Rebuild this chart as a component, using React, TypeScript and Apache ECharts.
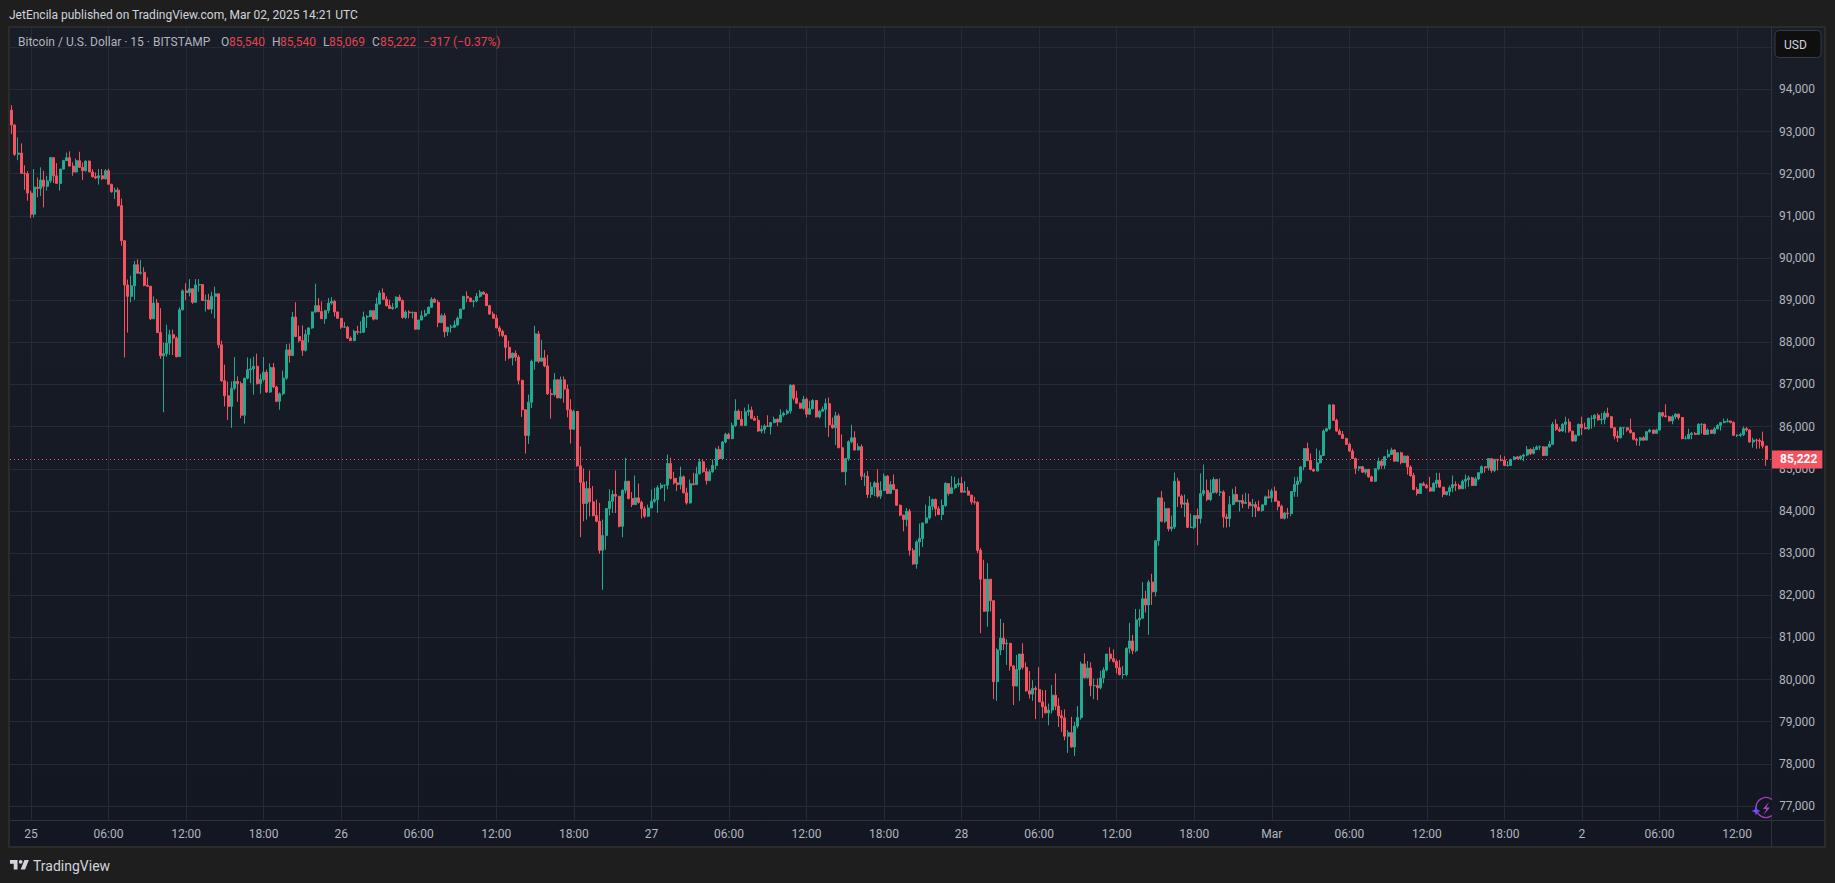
import React, { useEffect, useRef } from "react";
import * as echarts from "echarts";

// Each row: [close, high, low] of one 15-minute candle; a candle opens at the previous close.
const firstOpen = 93506;
const feb24to25a = [
[93158,93624,92940],[92460,93130,92420],[92490,92860,92320],[92010,92720,92010],[92000,92200,91620],[91540,92060,91360],[91040,91600,90950],[91680,92110,90960],[91650,91910,91440],[91850,92150,91470],[91700,92070,91200],[91830,91950,91600],
[92380,92400,91780],[91950,92390,91780],[91770,92250,91770],[92110,92110,91600],[92310,92330,92100],[92380,92500,92300],[92180,92530,92180],[92040,92270,91950],[92310,92360,92030],[92150,92520,92140],[92070,92270,91850],[92300,92310,92050],
[92040,92310,92040],[91930,92110,91910],[91900,92030,91870],[91950,92110,91740],[91880,92110,91850],[92070,92110,91860],[91750,92120,91750],[91570,91760,91550],[91610,91670,91400],[91240,91670,91220],[90410,91410,90290],[89360,90390,87640],
];
const feb25b = [
[89090,89490,88230],[89340,89580,88950],[89840,89930,89010],[89640,89970,89620],[89660,89950,89600],[89350,89780,89330],[89330,89540,89320],[88560,89340,88530],[88930,89090,88570],[88230,89030,88230],[87680,88810,87610],[87730,88000,86340],
[87980,88420,87660],[88180,88300,87700],[88100,88300,87700],[87660,88140,87640],[88770,88830,87750],[89220,89260,88760],[89180,89400,89000],[89270,89500,89090],[88950,89270,88910],[89360,89500,88970],[89370,89500,89200],[88990,89370,88990],
[89000,89130,88730],[88790,89150,88770],[89090,89200,88680],[89150,89320,88570],[87940,89130,87860],[87090,88040,87060],[86730,87470,86480],[86480,87070,86160],[86910,87070,85970],[87070,87650,86860],[87020,87190,86590],[86270,87070,86200],
[87150,87150,86070],[87350,87640,87120],[87370,87620,87030],[87430,87660,86760],[87020,87730,87000],[87120,87250,86780],[87290,87650,87070],[86820,87350,86800],[87400,87500,86800],[86940,87510,86910],[86600,86970,86580],[86780,86810,86400],
[87150,87330,86740],[87820,87960,87110],[87690,87970,87520],[88600,88720,87670],[88140,88950,88120],[88040,88400,88000],[87810,88400,87680],[88190,88300,87780],[88340,88360,88000],[88720,88730,88320],[88870,89390,88700],[88730,89050,88710],
];
const feb26 = [
[88560,88970,88560],[88750,88770,88440],[88930,89050,88690],[88970,89070,88890],[88720,89010,88610],[88570,88730,88560],[88360,88570,88320],[88360,88480,88340],[88100,88390,88080],[88040,88140,88030],[88260,88300,88030],[88240,88390,88180],
[88240,88500,88210],[88600,88730,88230],[88610,88650,88340],[88750,88770,88600],[88550,88750,88520],[88910,89060,88550],[89170,89230,88890],[89020,89280,89010],[88870,89090,88850],[88800,89010,88790],[88830,88930,88770],[89070,89090,88790],
[88990,89130,88970],[88590,89020,88560],[88720,88760,88550],[88700,88760,88570],[88710,88730,88570],[88310,88720,88300],[88530,88530,88310],[88630,88750,88520],[88680,88770,88600],[88830,88850,88680],[89020,89070,88820],[88950,89050,88930],
[88470,89010,88360],[88630,88680,88450],[88250,88690,88120],[88360,88360,88150],[88360,88420,88230],[88410,88520,88340],[88570,88610,88380],[88790,88790,88550],[89090,89100,88770],[89050,89210,88950],[88970,89060,88950],[88980,89010,88830],
[89090,89170,88950],[89190,89240,89060],[89140,89210,89130],[88870,89170,88860],[88670,88890,88650],[88570,88730,88560],[88340,88650,88340],[88260,88390,88140],[88160,88300,88120],[87880,88180,87560],[87630,88040,87600],[87740,87760,87450],
[87650,87810,87550],[87100,87700,87000],[86400,87110,86230],[85790,86380,85360],[86580,86760,85590],[87550,87590,86440],[88200,88390,87350],[87550,88270,87510],[87630,88060,87550],[87440,87820,87410],[86780,87700,86750],[86760,86900,86190],
[87110,87270,86720],[86680,87130,86680],[87110,87190,86660],[86890,87190,86570],[86400,87000,86220],[85940,86650,85600],[86360,86400,85920],[85070,86320,85050],[84680,85530,83380],
];
const feb27a = [
[84175,85010,83755],[84530,84710,83795],[84215,84960,83875],[83890,84590,83870],[83755,84270,83730],[83065,84190,82985],[83415,83795,82130],[84055,84070,83080],[84230,84510,83890],[84390,84490,83950],[84350,84960,83950],[83635,84350,83610],
[84490,84510,83375],[84705,85260,84415],[84295,84705,84270],[84150,84445,84090],[84310,84840,84150],[84205,84650,84175],[84050,84245,83820],[83875,84110,83835],[84070,84150,83860],[84230,84510,84130],[84270,84550,84190],[84550,84605,83955],
[84610,84665,84510],[84610,84625,84230],[85125,85340,84510],[84770,85260,84745],[84665,84930,84625],[84625,84785,84470],[84810,85050,84510],[84430,84840,84415],[84190,84550,84150],[84645,84745,84175],[84625,84905,84605],[84880,85050,84625],
[85165,85240,84865],[84930,85220,84905],[84720,85025,84625],[84930,84985,84705],[85080,85220,84905],[85460,85500,84985],[85240,85540,85220],[85635,85660,85220],[85815,85855,85605],[85715,85855,85700],[86030,86095,85700],[86370,86650,85990],
[86175,86410,86160],[86030,86370,86030],[86350,86450,86015],[86390,86530,86255],[86195,86475,86175],[86150,86255,86135],[85895,86255,85880],[85935,86030,85840],[86015,86055,85835],[86000,86270,86000],[86095,86095,85815],[86175,86235,86080],
[86110,86195,86015],[86275,86410,86095],[86315,86355,86235],[86370,86410,86275],[86980,87005,86310],[86675,87005,86625],[86555,86850,86545],[86435,86570,86425],[86650,86730,86395],[86295,86690,86215],[86425,86610,86275],[86620,86650,86410],
[86230,86625,86215],[86365,86390,86190],[86410,86475,86350],[86545,86665,85975],[86040,86690,85755],[85975,86215,85950],[86255,86350,85565],[85500,86310,85485],[84930,85815,84920],[85240,85260,84610],[85640,85675,85190],[85735,86045,85605],
[85445,85890,85435],[85525,85605,85435],[84825,85580,84730],[84825,84905,84590],[84390,84945,84310],[84565,84685,84310],[84665,84705,84350],[84350,84985,84310],[84485,84705,84285],[84825,84890,84470],[84415,84850,84415],[84625,84705,84430],
[84510,84865,84490],[84135,84510,84130],[83900,84150,83875],[83795,83915,83515],[83995,84070,83635],[83065,84050,82940],[82740,83120,82725],[83265,83305,82630],[83345,83700,82920],[83715,83715,83145],[83835,84150,83700],[84110,84350,83795],
[84270,84295,84015],[84050,84295,83875],[83915,84110,83900],[84130,84270,83780],[84650,84685,84095],[84415,84650,84365],[84550,84825,84415],[84625,84810,84510],[84650,84770,84565],[84445,84810,84430],[84470,84705,84445],[84375,84570,84365],
[84215,84375,84150],[84205,84335,84150],[83065,84230,83000],[82380,83120,81100],[81620,82840,81610],[82380,82760,81255],[81870,82365,81615],[79950,81890,79535],[80700,80740,79495],[80980,81440,80580],[80845,81345,80700],[80860,80955,80345],
];
const feb28 = [
[80320,80820,80210],[79845,80345,79395],[80240,80580,79910],[80605,80605,79495],[80290,80860,80240],[79735,80410,79710],[79655,80200,79550],[79790,79985,79495],[79765,79845,79060],[79470,80295,79465],[79355,79750,79090],[79210,79750,79195],
[79275,79430,78915],[79630,79870,79195],[79370,80145,79275],[79140,79565,78875],[79090,79275,78760],[78655,79290,78560],[78740,78800,78260],[78400,79115,78385],[78895,78995,78185],[79100,79370,78840],[80370,80425,79050],[80045,80620,80020],
[80275,80440,80020],[79855,80410,79605],[79855,80025,79535],[79805,80025,79510],[80035,80210,79765],[80225,80290,79910],[80605,80605,80195],[80495,80765,80425],[80430,80715,80400],[80280,80480,80145],[80115,80465,80100],[80120,80320,80020],
[80740,80765,80080],[80915,81345,80620],[80685,81060,80600],[81415,81675,80645],[81455,81675,81255],[81915,82310,81440],[81770,82105,81590],[82310,82365,81060],[82080,82510,81770],[83295,83295,81970],[84310,84310,83175],[83755,84470,83730],
[84055,84220,83715],[83580,84050,83515],[83620,83890,83515],[84705,84910,83570],[84350,84785,84095],[84160,84390,84070],[84190,84390,83855],[83610,84285,83595],[83610,83935,83595],[83890,83890,83570],[83820,84055,83185],[84410,84890,83700],
[84485,85100,84350],[84270,84745,84230],[84430,84745,84230],[84745,84800,84430],[84445,84760,84410],[84450,84770,84350],[83855,84490,83605],[83820,83935,83605],[84150,84350,83620],[84390,84525,84135],[84220,84580,84205],[84245,84255,83985],
[84180,84390,84070],[84205,84430,84165],[84125,84410,84050],[84150,84285,83855],[84085,84220,83855],[84010,84245,83990],[84145,84145,83975],[84335,84365,84135],[84310,84505,84295],[84470,84525,84205],[84230,84580,84215],[84110,84245,84015],
[83825,84150,83820],[83950,83970,83795],[83935,84070,83820],[84460,84460,83875],[84625,84810,84335],[84705,84810,84335],
];
const mar1 = [
[85045,85065,84650],[85480,85480,84965],[85195,85620,85180],[84985,85365,84965],[84945,85005,84930],[85140,85480,84945],[85315,85435,85125],[85895,85935,85300],[85950,85975,85880],[86515,86530,85920],[86150,86530,86135],[85895,86190,85880],
[85815,85950,85800],[85720,85895,85715],[85580,85735,85565],[85420,85620,85405],[85245,85475,85230],[85010,85260,84875],[85050,85060,84945],[84920,85065,84905],[84985,85000,84865],[84810,85000,84785],[84705,84840,84700],[85000,85010,84690],
[85180,85260,84960],[85080,85220,85000],[85285,85300,85000],[85340,85460,85260],[85445,85500,85325],[85180,85460,85165],[85380,85380,85165],[85145,85405,85105],[85300,85315,85165],[85040,85315,84865],[84840,85080,84810],[84510,84905,84490],
[84415,84565,84365],[84645,84665,84415],[84605,84690,84590],[84550,84645,84530],[84470,84810,84455],[84650,84685,84455],[84730,84905,84550],[84565,84905,84550],[84390,84570,84325],[84455,84470,84365],[84550,84605,84350],[84625,84840,84445],
[84605,84705,84470],[84525,84650,84510],[84705,84745,84525],[84745,84865,84525],[84785,84840,84570],[84605,84810,84590],[84760,84810,84590],[84905,84920,84730],[85050,85080,84880],[85025,85050,84905],[85240,85255,84960],[84960,85255,84905],
[85220,85240,84920],[85205,85240,84960],[85200,85325,85175],[85080,85300,85065],[85080,85180,85050],[85220,85240,85065],[85280,85300,85205],[85240,85300,85220],[85300,85315,85205],[85325,85355,85180],[85460,85540,85300],[85365,85485,85325],
];
const mar2 = [
[85460,85520,85340],[85515,85555,85445],[85520,85555,85440],[85315,85540,85300],[85520,85520,85300],[85580,85660,85500],[86055,86110,85565],[85935,86175,85895],[85895,85990,85870],[86055,86080,85880],[86110,86235,85855],[85895,86190,85855],
[85660,85895,85640],[85795,85815,85640],[86055,86070,85775],[85975,86235,85800],[85950,86095,85935],[86195,86215,85920],[86195,86270,85950],[86270,86295,86000],[86160,86315,86140],[86175,86330,86055],[86315,86370,86055],[86235,86450,86215],
[85975,86255,85960],[85775,85990,85700],[85735,85895,85635],[85975,86000,85720],[85975,85990,85800],[85920,85960,85880],[85855,86190,85840],[85700,85870,85675],[85675,85735,85555],[85735,85755,85540],[85680,85775,85660],[85880,85895,85675],
[85920,85950,85855],[85840,85920,85830],[85920,85950,85840],[86330,86350,85905],[86255,86350,86220],[86235,86530,86220],[86135,86255,86120],[86235,86270,86055],[86295,86315,86175],[86215,86310,86160],[85715,86230,85700],[85715,85780,85700],
[85815,85950,85700],[85840,85870,85700],[85815,85870,85800],[86055,86080,85800],[86055,86080,85835],[85815,86070,85800],[85920,85960,85830],[85840,85920,85830],[85950,85990,85815],[86030,86055,85935],[86095,86110,85905],[86120,86190,86080],
[86135,86190,86095],[86095,86135,86080],[85795,86125,85775],[85795,85815,85755],[85810,85855,85755],[85950,86000,85775],[85920,85990,85880],[85635,85935,85620],[85680,85735,85500],[85675,85715,85475],[85650,85720,85480],[85540,85880,85480],[85222,85540,85069],
];
const segments = [feb24to25a, feb25b, feb26, feb27a, feb28, mar1, mar2];

const priceTicks = [77000,78000,79000,80000,81000,82000,83000,84000,85000,86000,87000,88000,89000,90000,91000,92000,93000,94000,95000];
const priceLabels = priceTicks.slice(0, -1);
const timeLabels = ["25","06:00","12:00","18:00","26","06:00","12:00","18:00","27","06:00","12:00","18:00","28","06:00","12:00","18:00","Mar","06:00","12:00","18:00","2","06:00","12:00"];
const firstLabelSlot = 6;
const slotsPerLabel = 24;
const slotCount = 545;
const lastPrice = 85222;

const FONT = "Roboto, sans-serif";
const UP = "#22AB94";
const DOWN = "#F7525F";
const GRID = "#262A36";
const EDGE = "#2E323E";
const LEGEND_RED = "#E5434F";
const LEGEND_GRAY = "#B2B5BE";

const legendParts: [string, number, string][] = [
  ["Bitcoin / U.S. Dollar · 15 · BITSTAMP", 18, LEGEND_GRAY],
  ["O", 221, LEGEND_GRAY], ["85,540", 229, LEGEND_RED],
  ["H", 272, LEGEND_GRAY], ["85,540", 280, LEGEND_RED],
  ["L", 323, LEGEND_GRAY], ["85,069", 329, LEGEND_RED],
  ["C", 372, LEGEND_GRAY], ["85,222", 380, LEGEND_RED],
  ["−317 (−0.37%)", 423, LEGEND_RED],
];

const LOGO = "M14 6H2v6h6v9h6V6Zm12 15h-7l6-15h7l-6 15Zm-7-9a3 3 0 1 0 0-6 3 3 0 0 0 0 6Z";

export default function App() {
  const ref = useRef<HTMLDivElement>(null);
  useEffect(() => {
    document.body.style.margin = "0";
    document.body.style.background = "#1E1E1E";
    const rows = segments.flat();
    const candles = rows.map((r, i) => [i === 0 ? firstOpen : rows[i - 1][0], r[0], r[2], r[1]]);
    const tickSlots = timeLabels.map((_, i) => firstLabelSlot + i * slotsPerLabel);
    const categories = Array.from({ length: slotCount }, (_, i) => {
      const k = tickSlots.indexOf(i);
      return k >= 0 ? timeLabels[k] : "s" + i;
    });
    echarts.graphic.registerShape("tvLogo", echarts.graphic.extendPath(LOGO, {}) as any);
    const chart = echarts.init(ref.current!, undefined, { renderer: "svg" });
    const lab = (text: string, x: number, y: number, fill: string, size = 12, weight: any = "normal") => ({
      type: "text", z: 20, x, y,
      style: { text, fill, font: `${weight} ${size}px ${FONT}`, verticalAlign: "middle" },
    });
    chart.setOption({
      animation: false,
      backgroundColor: "#1E1E1E",
      tooltip: { show: false },
      grid: { left: 10, right: 1835 - 1771, top: 27, height: 793, containLabel: false },
      xAxis: {
        type: "category",
        data: categories,
        boundaryGap: true,
        axisLine: { show: true, lineStyle: { color: EDGE, width: 1 } },
        axisTick: { show: false, customValues: tickSlots },
        axisLabel: { customValues: tickSlots, color: "#B2B5BE", fontFamily: FONT, fontSize: 12, margin: 8, hideOverlap: false },
        splitLine: { show: true, alignWithLabel: true, lineStyle: { color: GRID, width: 1 } },
      },
      yAxis: {
        type: "value",
        position: "right",
        min: 76668,
        max: 95480,
        axisLine: { show: true, lineStyle: { color: EDGE, width: 1 } },
        axisTick: { show: false, customValues: priceTicks },
        axisLabel: { customValues: priceLabels, color: "#B2B5BE", fontFamily: FONT, fontSize: 12, margin: 8, formatter: (v: number) => v.toLocaleString("en-US") },
        splitLine: { show: true, lineStyle: { color: GRID, width: 1 } },
      },
      series: [{
        type: "candlestick",
        data: candles,
        barWidth: 2.5,
        itemStyle: { color: UP, color0: DOWN, borderColor: UP, borderColor0: DOWN, borderWidth: 1 },
        markLine: {
          silent: true,
          symbol: "none",
          animation: false,
          data: [{ yAxis: lastPrice }],
          lineStyle: { color: DOWN, type: [1, 3], width: 1 },
          label: {
            show: true, position: "end", distance: 1, formatter: "85,222", color: "#FFFFFF",
            backgroundColor: DOWN, fontFamily: FONT, fontSize: 12, fontWeight: "bold", padding: [3, 5, 3, 8],
          },
        },
      }],
      graphic: { elements: [
        { type: "rect", z: -5, silent: true, shape: { x: 9, y: 27, width: 1816, height: 820 },
          style: { stroke: "#2B2B2B", lineWidth: 2, fill: new echarts.graphic.LinearGradient(0, 0, 0, 1, [{ offset: 0, color: "#191D28" }, { offset: 1, color: "#131722" }]) } },
        { type: "line", z: 1, silent: true, shape: { x1: 1771.5, y1: 820, x2: 1771.5, y2: 847 }, style: { stroke: EDGE, lineWidth: 1 } },
        { type: "line", z: 1, silent: true, shape: { x1: 1771, y1: 820.5, x2: 1825, y2: 820.5 }, style: { stroke: EDGE, lineWidth: 1 } },
        lab("JetEncila published on TradingView.com, Mar 02, 2025 14:21 UTC", 9, 15, "#D1D4DC"),
        ...legendParts.map(([t, x, c]) => lab(t, x, 42, c)),
        { type: "rect", z: 20, silent: true, shape: { x: 1775, y: 30.5, width: 46, height: 27, r: 4 }, style: { fill: "#0F0F0F", stroke: "#363A45", lineWidth: 1 } },
        { ...lab("USD", 1784, 44.5, "#D1D4DC"), z: 21 },
        { type: "tvLogo", z: 20, silent: true, x: 8.7, y: 856.2, scaleX: 0.63, scaleY: 0.63, style: { fill: "#D1D4DC" } },
        lab("TradingView", 33, 865.5, "#D1D4DC", 14),
        { type: "circle", z: 18, silent: true, shape: { cx: 1766, cy: 807.5, r: 10 }, style: { fill: "#131722", stroke: "#A13FB8", lineWidth: 1.4 } },
        { type: "rect", z: 19, silent: true, shape: { x: 1771.8, y: 795, width: 8, height: 25 }, style: { fill: "#151924" } },
        { type: "polygon", z: 20, silent: true, shape: { points: [[1769, 802], [1763, 809], [1766.5, 809], [1763.5, 815], [1770, 807.5], [1766.5, 807.5]] }, style: { fill: "#A944C7" } },
        { type: "polygon", z: 21, silent: true, shape: { points: [[1756, 806], [1757.2, 809.6], [1760.5, 811], [1757.2, 812.2], [1756, 815.5], [1754.8, 812.2], [1751.5, 811], [1754.8, 809.6]] }, style: { fill: "#6A4DFF" } },
      ] },
    });
    return () => chart.dispose();
  }, []);
  return <div ref={ref} style={{ width: 1835, height: 883 }} />;
}
